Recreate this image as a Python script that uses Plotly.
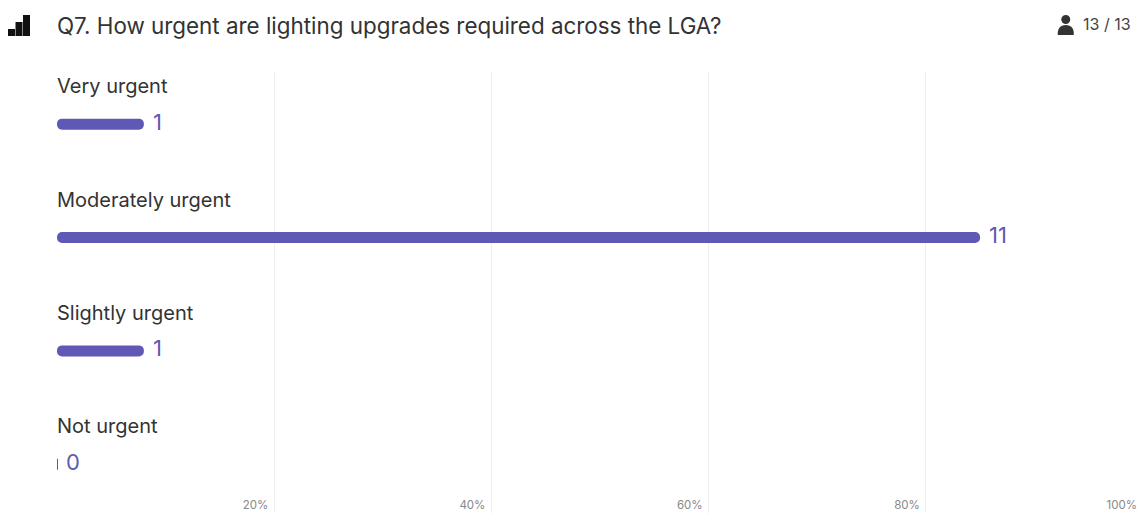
import plotly.graph_objects as go

categories = ["Very urgent", "Moderately urgent", "Slightly urgent", "Not urgent"]
counts = [1, 11, 1, 0]
percents = [8, 85, 8, 0]
tick_values = [0, 20, 40, 60, 80, 100]
tick_labels = ["", "20%", "40%", "60%", "80%", "100%"]
title_text = "Q7. How urgent are lighting upgrades required across the LGA?"
respondents = "13 / 13"

W, H = 1145, 513
L, R, T, B = 57, 1.75, 72, 0
FONT = "Inter"
PURPLE = "#5f59b5"
DARK = "#333333"


def px(x):
    return (x - L) / (W - L - R)


def py(y):
    return 1 - (y - T) / (H - T - B)


fig = go.Figure()
# An explicit base makes plotly round both ends of each bar.
fig.add_bar(
    x=percents,
    base=[0 for _ in percents],
    y=categories,
    orientation="h",
    width=0.097,
    marker=dict(
        color=PURPLE,
        cornerradius=5,
        line=dict(color=PURPLE, width=[0 if p else 2 for p in percents]),
    ),
    hoverinfo="skip",
)

annotations = []
for cat, pct, cnt in zip(categories, percents, counts):
    annotations.append(dict(
        x=0, y=cat, xref="x", yref="y", text=cat, showarrow=False,
        xanchor="left", yanchor="middle", yshift=38, xshift=-2,
        font=dict(family=FONT, size=20, color=DARK),
    ))
    annotations.append(dict(
        x=pct, y=cat, xref="x", yref="y", text=str(cnt), showarrow=False,
        xanchor="left", yanchor="middle", xshift=7, yshift=2.5,
        font=dict(family=FONT, size=22, color=PURPLE),
    ))
annotations.append(dict(
    x=px(1081), y=py(24), xref="paper", yref="paper", text=respondents, showarrow=False,
    xanchor="left", yanchor="middle", font=dict(family=FONT, size=16, color="#444444"),
))

shapes = []
for x0, x1, y0 in [(8, 15, 29), (15.5, 22.5, 22), (23, 30, 15)]:
    shapes.append(dict(
        type="rect", xref="paper", yref="paper", x0=px(x0), x1=px(x1), y0=py(y0), y1=py(36),
        fillcolor="#111111", line_width=0, layer="above",
    ))
shapes.append(dict(
    type="circle", xref="paper", yref="paper", x0=px(1061.5), x1=px(1070.5), y0=py(15), y1=py(24),
    fillcolor="#333333", line_width=0,
))
body = (
    f"M {px(1058)} {py(35)} L {px(1074)} {py(35)} L {px(1074)} {py(32)} "
    f"Q {px(1073)} {py(25)} {px(1066)} {py(25)} Q {px(1059)} {py(25)} {px(1058)} {py(32)} Z"
)
shapes.append(dict(
    type="path", xref="paper", yref="paper", path=body,
    fillcolor="#333333", line_width=0,
))

fig.update_layout(
    width=W,
    height=H,
    margin=dict(l=L, r=R, t=T, b=B, pad=0),
    paper_bgcolor="white",
    plot_bgcolor="white",
    showlegend=False,
    barmode="overlay",
    title=dict(
        text=title_text, x=57 / W, xanchor="left", xref="container",
        y=1 - 26 / H, yref="container", yanchor="middle",
        font=dict(family=FONT, size=22.4, color=DARK),
    ),
    xaxis=dict(
        range=[0, 100],
        tickvals=tick_values,
        ticktext=tick_labels,
        ticklabelposition="inside left",
        ticklabelshift=-6,
        ticklabelstandoff=-4,
        tickfont=dict(family=FONT, size=11.5, color="#888888"),
        ticks="",
        showgrid=True,
        gridcolor="#efefef",
        gridwidth=1,
        zeroline=False,
        showline=False,
    ),
    yaxis=dict(
        categoryorder="array",
        categoryarray=categories,
        range=[3.43, -0.46],
        showticklabels=False,
        ticks="",
        showgrid=False,
        zeroline=False,
        showline=False,
    ),
    annotations=annotations,
    shapes=shapes,
)

fig.write_html(
    "out.html",
    config={"displayModeBar": False},
    post_script="document.body.style.margin='0';",
)
